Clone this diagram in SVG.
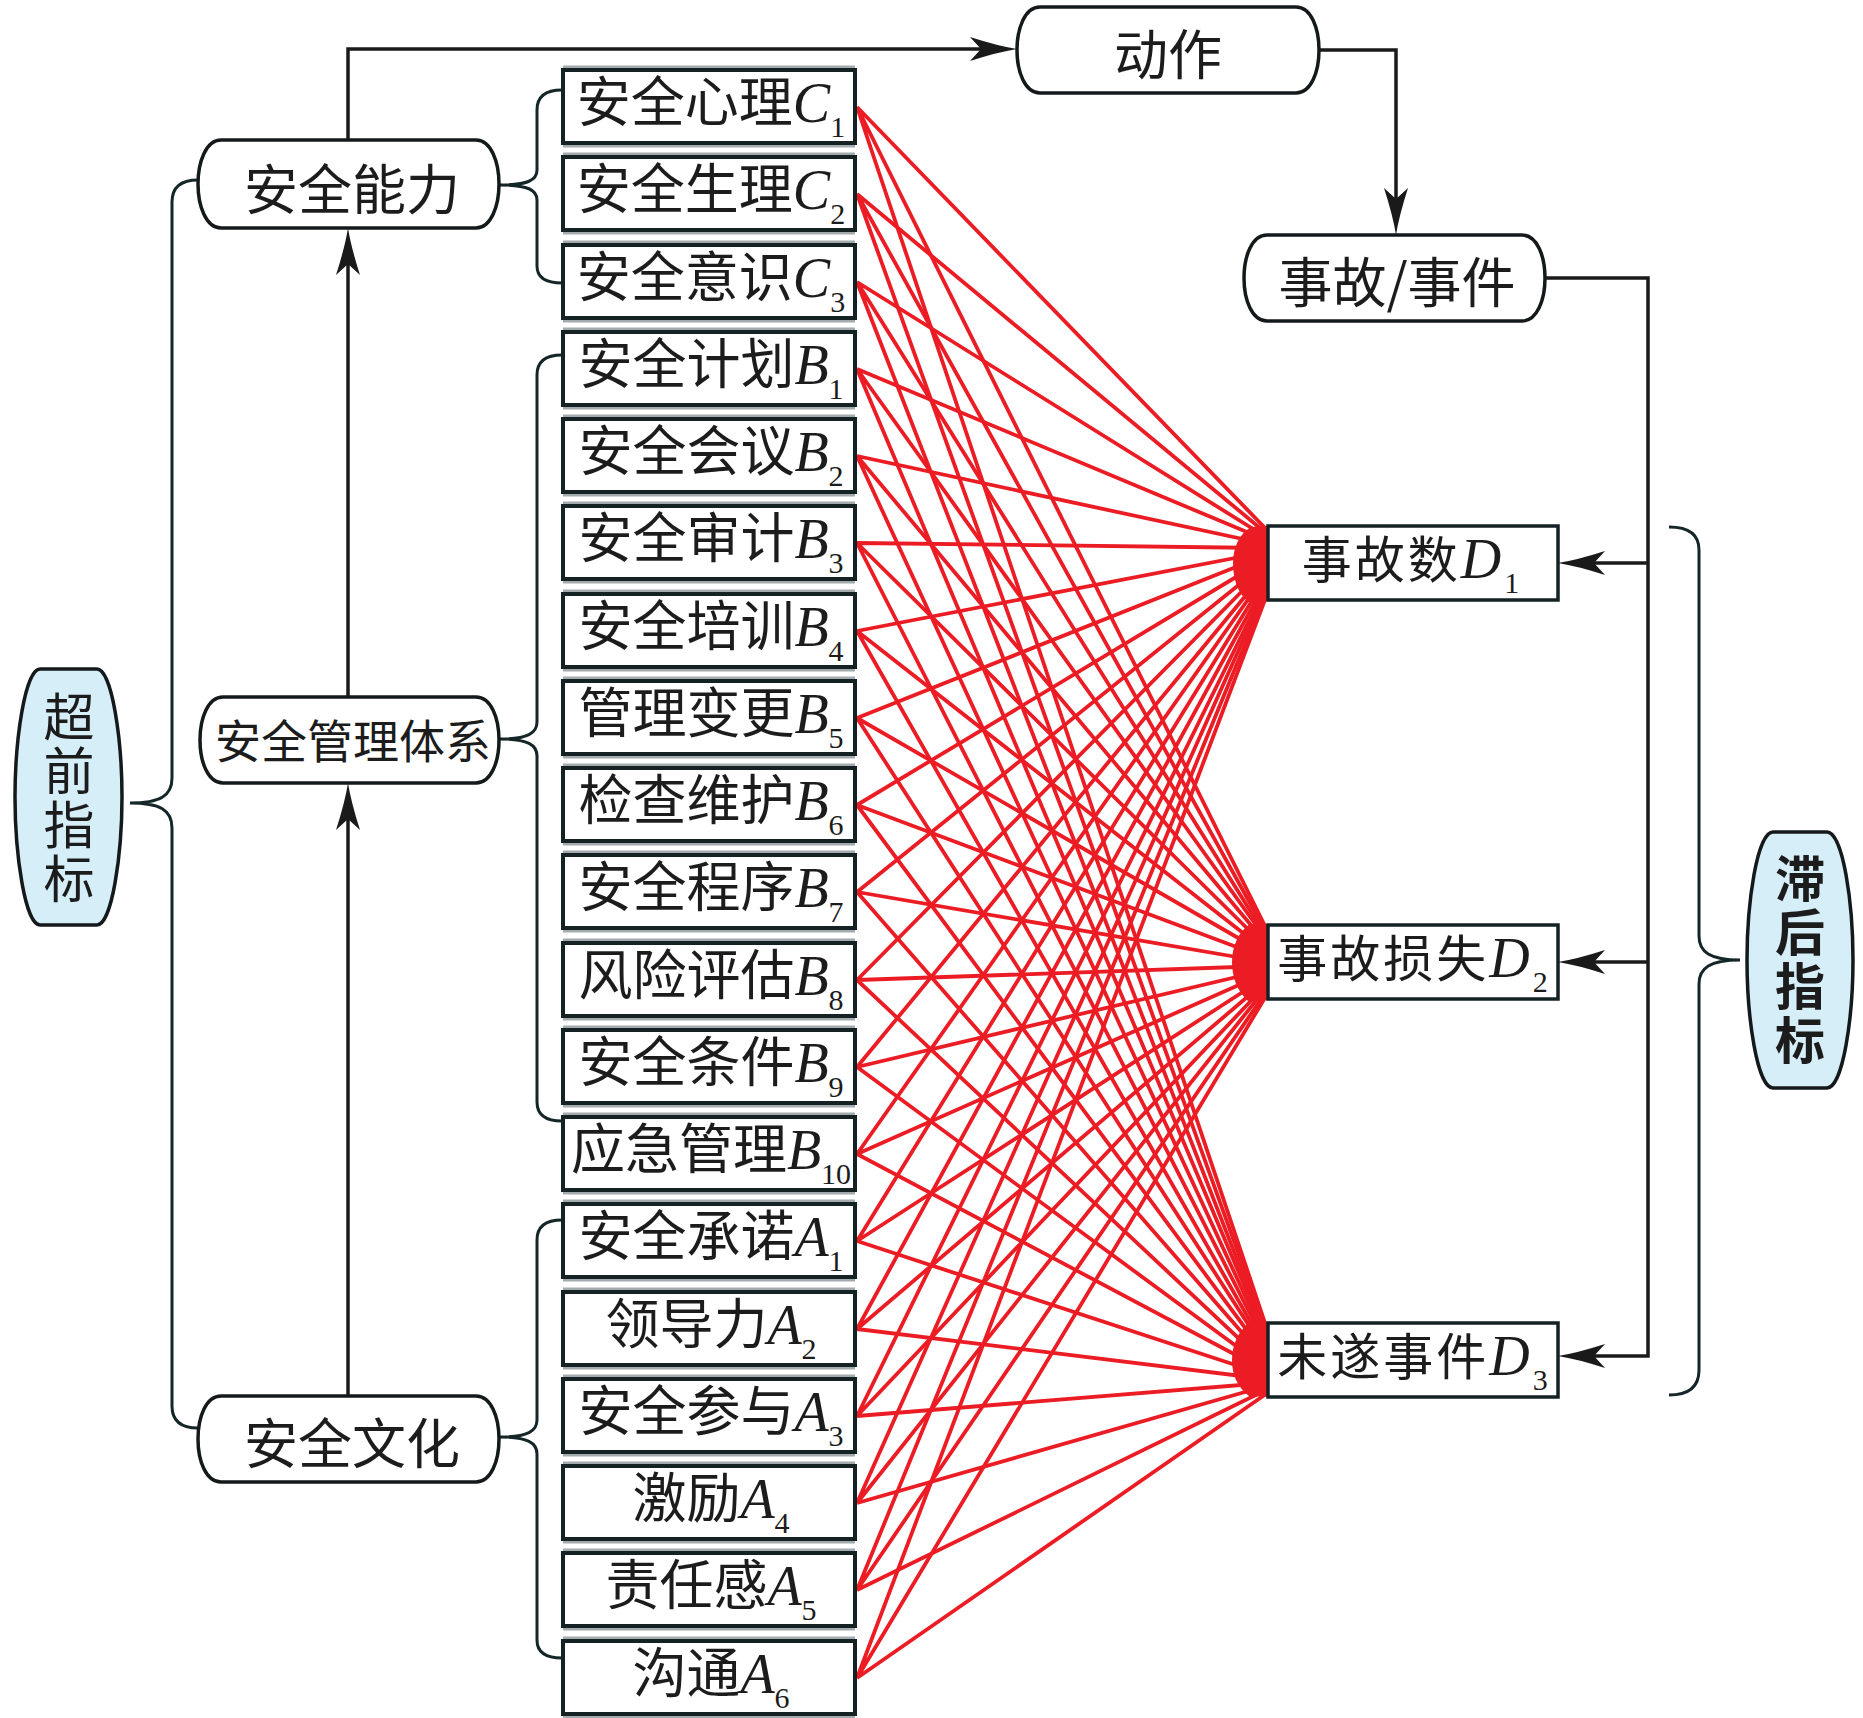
<svg xmlns="http://www.w3.org/2000/svg" width="1863" height="1718" viewBox="0 0 1863 1718">
<style>
.bg{fill:#fff}
.box{fill:#fff;stroke:#142224;stroke-width:4}
.dbox{fill:#fff;stroke:#142224;stroke-width:3.5}
.sh{fill:none;stroke:#a3abae;stroke-width:3}
.rbox{fill:#fff;stroke:#141a1b;stroke-width:3.5}
.oval{fill:#d5eef8;stroke:#141a1b;stroke-width:3.5}
.cjk{font-family:"Noto Sans CJK SC","Noto Sans CJK JP",sans-serif;fill:#1c1c1c}
.m{font-size:54px}
.v{font-family:"Liberation Serif",serif;font-style:italic;font-size:56px}
.s{font-family:"Liberation Serif",serif;font-size:30px;font-style:normal}
.con{fill:none;stroke:#1a1a1a;stroke-width:3.5}
.br{fill:none;stroke:#142628;stroke-width:3}
.red{fill:none;stroke:#ec1c24;stroke-width:3.8}
.blob{fill:#ec1c24;stroke:none}
</style>
<defs>
<marker id="ah" markerUnits="userSpaceOnUse" markerWidth="50" markerHeight="26" refX="37" refY="12" orient="auto" overflow="visible">
<path d="M0,0 Q28,9 47,12 Q28,15 0,24 L11,12 Z" fill="#1a1a1a"/>
</marker>
</defs>
<rect class="bg" x="0" y="0" width="1863" height="1718"/>

<g id="connectors">
<g id="red-links">
<path class="red" d="M857,107L1266,529M857,107L1266,928M857,107L1266,1326"/>
<path class="red" d="M857,194L1266,533M857,194L1266,932M857,194L1266,1330"/>
<path class="red" d="M857,282L1266,537M857,282L1266,936M857,282L1266,1334"/>
<path class="red" d="M857,369L1266,540M857,369L1266,939M857,369L1266,1337"/>
<path class="red" d="M857,456L1266,544M857,456L1266,943M857,456L1266,1341"/>
<path class="red" d="M857,543L1266,548M857,543L1266,947M857,543L1266,1345"/>
<path class="red" d="M857,631L1266,552M857,631L1266,951M857,631L1266,1349"/>
<path class="red" d="M857,718L1266,555M857,718L1266,954M857,718L1266,1352"/>
<path class="red" d="M857,805L1266,559M857,805L1266,958M857,805L1266,1356"/>
<path class="red" d="M857,892L1266,563M857,892L1266,962M857,892L1266,1360"/>
<path class="red" d="M857,980L1266,567M857,980L1266,966M857,980L1266,1364"/>
<path class="red" d="M857,1067L1266,571M857,1067L1266,970M857,1067L1266,1368"/>
<path class="red" d="M857,1154L1266,574M857,1154L1266,973M857,1154L1266,1371"/>
<path class="red" d="M857,1241L1266,578M857,1241L1266,977M857,1241L1266,1375"/>
<path class="red" d="M857,1329L1266,582M857,1329L1266,981M857,1329L1266,1379"/>
<path class="red" d="M857,1416L1266,586M857,1416L1266,985M857,1416L1266,1383"/>
<path class="red" d="M857,1503L1266,589M857,1503L1266,988M857,1503L1266,1386"/>
<path class="red" d="M857,1590L1266,593M857,1590L1266,992M857,1590L1266,1390"/>
<path class="red" d="M857,1678L1266,597M857,1678L1266,996M857,1678L1266,1394"/>
<path class="blob" d="M1268,526 V601 L1248,602 C1237,592 1233,578 1233,563 C1233,548 1239,534 1251,527 Z"/>
<path class="blob" d="M1268,924 V1000 L1248,1001 C1237,991 1232,977 1232,962 C1232,947 1238,932 1250,924 Z"/>
<path class="blob" d="M1268,1322 V1397 L1249,1396 C1237,1387 1232,1374 1232,1360 C1232,1345 1238,1331 1250,1322 Z"/>
</g>
<path class="br" d="M198,180 C182,180 172,186 172,202 L172,778 C172,796 160,803 130,803 C160,803 172,810 172,828 L172,1406 C172,1422 182,1428 198,1428"/>
<path class="br" d="M1669,527 C1688,527 1699,534 1699,550 L1699,936 C1699,952 1710,960 1740,960 C1710,960 1699,968 1699,984 L1699,1370 C1699,1387 1688,1395 1669,1395"/>
<path class="br" d="M562,90 C546,90 537,96 537,110 L537,170 C537,180 528,185 500,185 C528,185 537,190 537,200 L537,266 C537,278 546,283 562,283"/>
<path class="br" d="M562,355 C546,355 537,361 537,375 L537,722 C537,733 528,739 500,739 C528,739 537,745 537,756 L537,1102 C537,1115 546,1121 562,1121"/>
<path class="br" d="M562,1220 C546,1220 537,1226 537,1240 L537,1420 C537,1431 528,1437 500,1437 C528,1437 537,1443 537,1454 L537,1640 C537,1652 546,1658 562,1658"/>
<path class="con" d="M348,697 V238" marker-end="url(#ah)"/>
<path class="con" d="M348,1396 V793" marker-end="url(#ah)"/>
<path class="con" d="M348,140 V49 H1007" marker-end="url(#ah)"/>
<path class="con" d="M1319,50 H1396 V225" marker-end="url(#ah)"/>
<path class="con" d="M1545,278 H1648 V1356 H1568" marker-end="url(#ah)"/>
<path class="con" d="M1648,563 H1568" marker-end="url(#ah)"/>
<path class="con" d="M1648,962 H1568" marker-end="url(#ah)"/>
</g>

<g id="lead-indicator">
<path class="oval" d="M40,669 H97 C112,669 122,740 122,797 C122,854 112,925 97,925 H40 C25,925 15,854 15,797 C15,740 25,669 40,669 Z"/>
<text class="cjk" x="69" y="799" font-size="51" letter-spacing="3" writing-mode="vertical-rl" text-anchor="middle">超前指标</text>
</g>
<g id="lag-indicator">
<path class="oval" d="M1773,832 H1827 C1843,832 1853,903 1853,960 C1853,1017 1843,1088 1827,1088 H1773 C1757,1088 1747,1017 1747,960 C1747,903 1757,832 1773,832 Z"/>
<text class="cjk" x="1800" y="961" font-size="50" font-weight="bold" letter-spacing="4" writing-mode="vertical-rl" text-anchor="middle">滞后指标</text>
</g>

<g id="safety-ability">
<path class="rbox" d="M221,140 H476 C491,140 499,162 499,184 C499,206 491,228 476,228 H221 C206,228 198,206 198,184 C198,162 206,140 221,140 Z"/>
<text class="cjk" x="352" y="186" font-size="54" text-anchor="middle" dominant-baseline="central">安全能力</text>
</g>
<g id="safety-management">
<path class="rbox" d="M223,697 H476 C491,697 499,718 499,740 C499,762 491,783 476,783 H223 C208,783 200,762 200,740 C200,718 208,697 223,697 Z"/>
<text class="cjk" x="353" y="738" font-size="46" text-anchor="middle" dominant-baseline="central">安全管理体系</text>
</g>
<g id="safety-culture">
<path class="rbox" d="M221,1396 H476 C491,1396 499,1417 499,1439 C499,1461 491,1482 476,1482 H221 C206,1482 198,1461 198,1439 C198,1417 206,1396 221,1396 Z"/>
<text class="cjk" x="352" y="1440" font-size="54" text-anchor="middle" dominant-baseline="central">安全文化</text>
</g>
<g id="action">
<path class="rbox" d="M1040,7 H1296 C1311,7 1319,28 1319,50 C1319,72 1311,93 1296,93 H1040 C1025,93 1017,72 1017,50 C1017,28 1025,7 1040,7 Z"/>
<text class="cjk" x="1168" y="51" font-size="54" text-anchor="middle" dominant-baseline="central">动作</text>
</g>
<g id="accident-event">
<path class="rbox" d="M1267,235 H1522 C1537,235 1545,256 1545,278 C1545,300 1537,321 1522,321 H1267 C1252,321 1244,300 1244,278 C1244,256 1252,235 1267,235 Z"/>
<text class="cjk" x="1397" y="279" font-size="54" text-anchor="middle" dominant-baseline="central">事故/事件</text>
</g>

<g id="C1"><path class="sh" d="M563,67H855M563,146H855"/><rect class="box" x="563" y="70" width="292" height="73"/><text class="cjk m" x="711" y="122" text-anchor="middle">安全心理<tspan class="v">C</tspan><tspan class="s" dy="15">1</tspan></text></g>
<g id="C2"><path class="sh" d="M563,154H855M563,233H855"/><rect class="box" x="563" y="157" width="292" height="73"/><text class="cjk m" x="711" y="209" text-anchor="middle">安全生理<tspan class="v">C</tspan><tspan class="s" dy="15">2</tspan></text></g>
<g id="C3"><path class="sh" d="M563,242H855M563,321H855"/><rect class="box" x="563" y="245" width="292" height="73"/><text class="cjk m" x="711" y="297" text-anchor="middle">安全意识<tspan class="v">C</tspan><tspan class="s" dy="15">3</tspan></text></g>
<g id="B1"><path class="sh" d="M563,329H855M563,408H855"/><rect class="box" x="563" y="332" width="292" height="73"/><text class="cjk m" x="711" y="384" text-anchor="middle">安全计划<tspan class="v">B</tspan><tspan class="s" dy="15">1</tspan></text></g>
<g id="B2"><path class="sh" d="M563,416H855M563,495H855"/><rect class="box" x="563" y="419" width="292" height="73"/><text class="cjk m" x="711" y="471" text-anchor="middle">安全会议<tspan class="v">B</tspan><tspan class="s" dy="15">2</tspan></text></g>
<g id="B3"><path class="sh" d="M563,503H855M563,582H855"/><rect class="box" x="563" y="506" width="292" height="73"/><text class="cjk m" x="711" y="558" text-anchor="middle">安全审计<tspan class="v">B</tspan><tspan class="s" dy="15">3</tspan></text></g>
<g id="B4"><path class="sh" d="M563,591H855M563,670H855"/><rect class="box" x="563" y="594" width="292" height="73"/><text class="cjk m" x="711" y="646" text-anchor="middle">安全培训<tspan class="v">B</tspan><tspan class="s" dy="15">4</tspan></text></g>
<g id="B5"><path class="sh" d="M563,678H855M563,757H855"/><rect class="box" x="563" y="681" width="292" height="73"/><text class="cjk m" x="711" y="733" text-anchor="middle">管理变更<tspan class="v">B</tspan><tspan class="s" dy="15">5</tspan></text></g>
<g id="B6"><path class="sh" d="M563,765H855M563,844H855"/><rect class="box" x="563" y="768" width="292" height="73"/><text class="cjk m" x="711" y="820" text-anchor="middle">检查维护<tspan class="v">B</tspan><tspan class="s" dy="15">6</tspan></text></g>
<g id="B7"><path class="sh" d="M563,852H855M563,931H855"/><rect class="box" x="563" y="855" width="292" height="73"/><text class="cjk m" x="711" y="907" text-anchor="middle">安全程序<tspan class="v">B</tspan><tspan class="s" dy="15">7</tspan></text></g>
<g id="B8"><path class="sh" d="M563,940H855M563,1019H855"/><rect class="box" x="563" y="943" width="292" height="73"/><text class="cjk m" x="711" y="995" text-anchor="middle">风险评估<tspan class="v">B</tspan><tspan class="s" dy="15">8</tspan></text></g>
<g id="B9"><path class="sh" d="M563,1027H855M563,1106H855"/><rect class="box" x="563" y="1030" width="292" height="73"/><text class="cjk m" x="711" y="1082" text-anchor="middle">安全条件<tspan class="v">B</tspan><tspan class="s" dy="15">9</tspan></text></g>
<g id="B10"><path class="sh" d="M563,1114H855M563,1193H855"/><rect class="box" x="563" y="1117" width="292" height="73"/><text class="cjk m" x="711" y="1169" text-anchor="middle">应急管理<tspan class="v">B</tspan><tspan class="s" dy="15">10</tspan></text></g>
<g id="A1"><path class="sh" d="M563,1201H855M563,1280H855"/><rect class="box" x="563" y="1204" width="292" height="73"/><text class="cjk m" x="711" y="1256" text-anchor="middle">安全承诺<tspan class="v">A</tspan><tspan class="s" dy="15">1</tspan></text></g>
<g id="A2"><path class="sh" d="M563,1289H855M563,1368H855"/><rect class="box" x="563" y="1292" width="292" height="73"/><text class="cjk m" x="711" y="1344" text-anchor="middle">领导力<tspan class="v">A</tspan><tspan class="s" dy="15">2</tspan></text></g>
<g id="A3"><path class="sh" d="M563,1376H855M563,1455H855"/><rect class="box" x="563" y="1379" width="292" height="73"/><text class="cjk m" x="711" y="1431" text-anchor="middle">安全参与<tspan class="v">A</tspan><tspan class="s" dy="15">3</tspan></text></g>
<g id="A4"><path class="sh" d="M563,1463H855M563,1542H855"/><rect class="box" x="563" y="1466" width="292" height="73"/><text class="cjk m" x="711" y="1518" text-anchor="middle">激励<tspan class="v">A</tspan><tspan class="s" dy="15">4</tspan></text></g>
<g id="A5"><path class="sh" d="M563,1550H855M563,1629H855"/><rect class="box" x="563" y="1553" width="292" height="73"/><text class="cjk m" x="711" y="1605" text-anchor="middle">责任感<tspan class="v">A</tspan><tspan class="s" dy="15">5</tspan></text></g>
<g id="A6"><path class="sh" d="M563,1638H855M563,1717H855"/><rect class="box" x="563" y="1641" width="292" height="73"/><text class="cjk m" x="711" y="1693" text-anchor="middle">沟通<tspan class="v">A</tspan><tspan class="s" dy="15">6</tspan></text></g>

<g id="D1"><rect class="dbox" x="1268" y="526" width="290" height="74"/><text class="cjk" x="1412" y="578" font-size="50" letter-spacing="3" text-anchor="middle">事故数<tspan class="v" font-size="52">D</tspan><tspan class="s" dy="15">1</tspan></text></g>
<g id="D2"><rect class="dbox" x="1268" y="925" width="290" height="74"/><text class="cjk" x="1414" y="977" font-size="50" letter-spacing="3" text-anchor="middle">事故损失<tspan class="v" font-size="52">D</tspan><tspan class="s" dy="15">2</tspan></text></g>
<g id="D3"><rect class="dbox" x="1268" y="1323" width="290" height="74"/><text class="cjk" x="1414" y="1375" font-size="50" letter-spacing="3" text-anchor="middle">未遂事件<tspan class="v" font-size="52">D</tspan><tspan class="s" dy="15">3</tspan></text></g>
</svg>
